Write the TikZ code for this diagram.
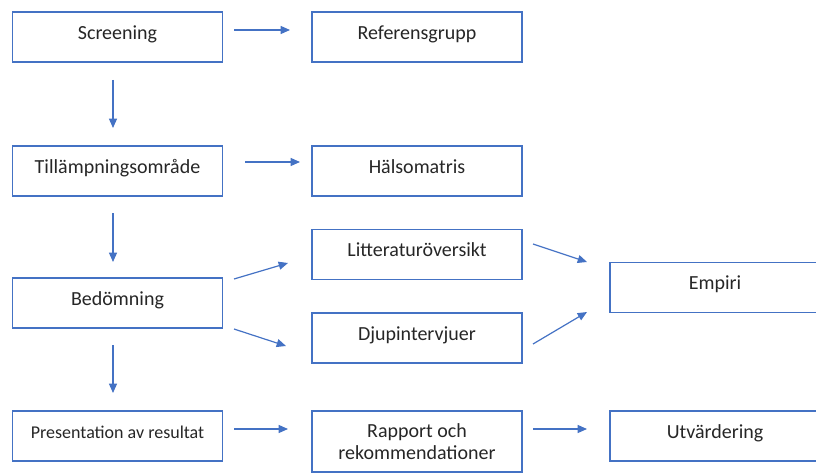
\documentclass[tikz,border=0pt]{standalone}
\usepackage{fontspec}
\setmainfont{Carlito}
\usetikzlibrary{arrows.meta}
\definecolor{ob}{HTML}{4472C4}
\begin{document}
\begin{tikzpicture}[x=0.75pt,y=-0.75pt,
  box/.style={draw=ob,line width=1.1pt,minimum width=157.5pt,minimum height=37.5pt,
    inner sep=0pt,font=\fontsize{15pt}{16.5pt}\selectfont,text=black!85},
  one/.style={text height=9.75pt,text depth=6.3pt},
  arr/.style={draw=ob,line width=0.9pt,-{Triangle[length=7pt,width=6pt]}}]
\useasboundingbox (0,0) rectangle (816,474);
% boxes
\node[box,one] (scr) at (117.5,37) {Screening};
\node[box,one] (ref) at (417,37) {Referensgrupp};
\node[box,one] (til) at (117.5,171) {Tillämpningsområde};
\node[box,one] (hal) at (417,171) {Hälsomatris};
\node[box,one] (lit) at (417,254.5) {Litteraturöversikt};
\node[box,one] (dju) at (417,338) {Djupintervjuer};
\node[box,one] (emp) at (715,287.5) {Empiri};
\node[box,one] (bed) at (117.5,303) {Bedömning};
\node[box,one,font=\fontsize{13.5pt}{16pt}\selectfont] (pre) at (117.5,436) {Presentation av resultat};
\node[box,align=center,minimum height=45.75pt] (rap) at (417,441.5) {Rapport och\\rekommendationer};
\node[box,one] (utv) at (715,436) {Utvärdering};
% arrow end points
\coordinate (a1) at (234,30);  \coordinate (b1) at (290,30);
\coordinate (a2) at (113,80);  \coordinate (b2) at (113,128);
\coordinate (a3) at (245,162); \coordinate (b3) at (300,162);
\coordinate (a4) at (113,213); \coordinate (b4) at (113,262);
\coordinate (a5) at (234,279); \coordinate (b5) at (288,263);
\coordinate (a6) at (234,329); \coordinate (b6) at (286,346);
\coordinate (a7) at (533,244); \coordinate (b7) at (587,262);
\coordinate (a8) at (533,344); \coordinate (b8) at (587,312);
\coordinate (a9) at (113,345); \coordinate (b9) at (113,393);
\coordinate (a10) at (234,429); \coordinate (b10) at (288,429);
\coordinate (a11) at (533,429); \coordinate (b11) at (587,429);
\draw[arr] (a1) -- (b1);
\draw[arr] (a2) -- (b2);
\draw[arr] (a3) -- (b3);
\draw[arr] (a4) -- (b4);
\draw[arr] (a5) -- (b5);
\draw[arr] (a6) -- (b6);
\draw[arr] (a7) -- (b7);
\draw[arr] (a8) -- (b8);
\draw[arr] (a9) -- (b9);
\draw[arr] (a10) -- (b10);
\draw[arr] (a11) -- (b11);
\end{tikzpicture}
\end{document}
